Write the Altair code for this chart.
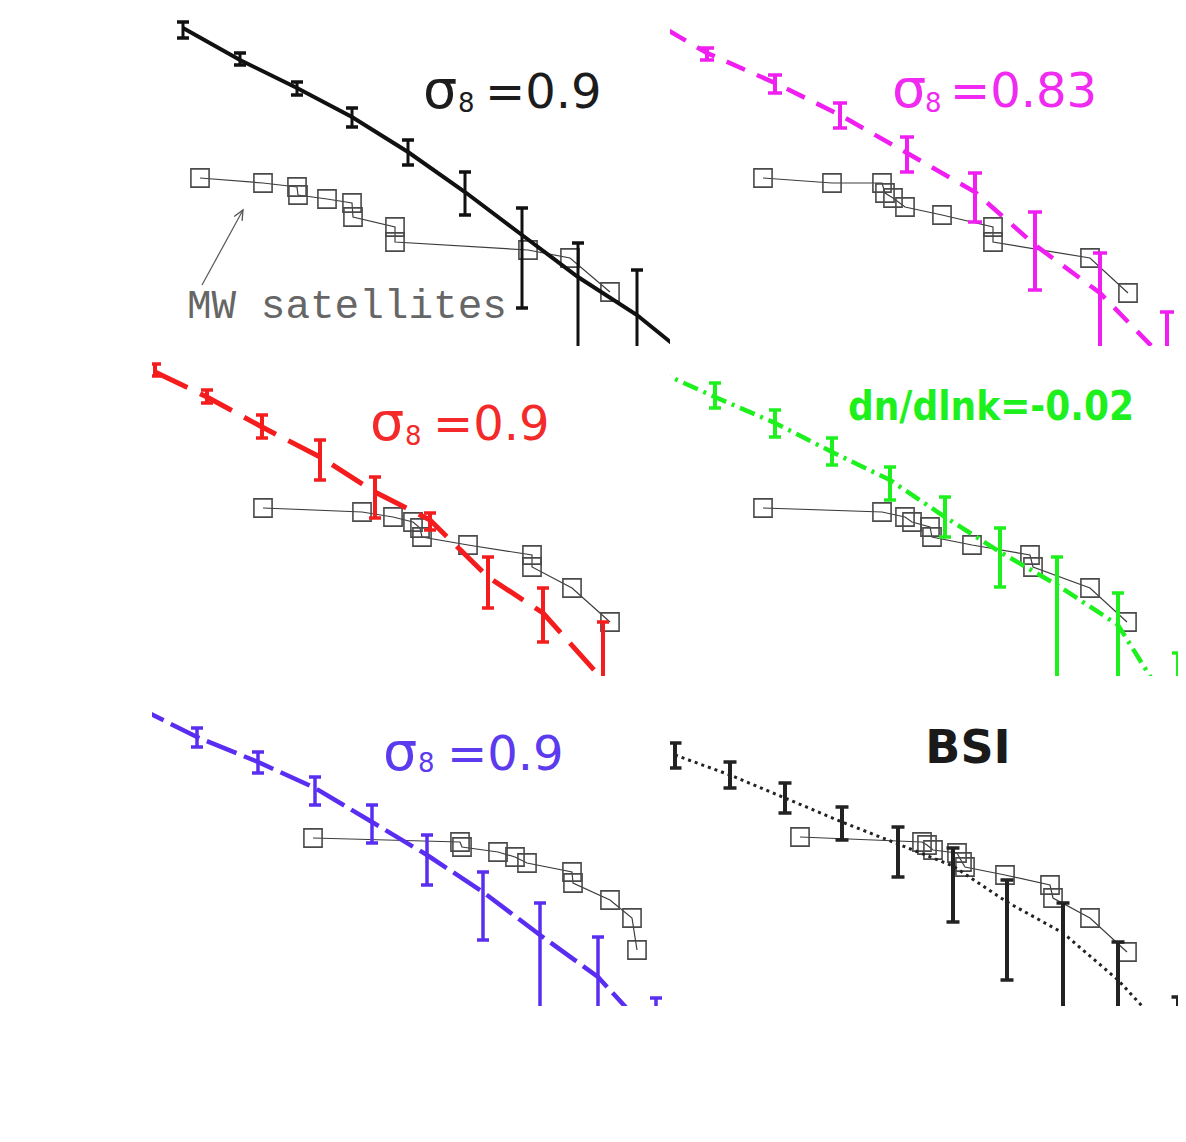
import altair as alt
import pandas as pd

# ------------------------------------------------------------------
# Data: x = log Vmax (offset, panel units),
# y = log N(>Vmax) (panel units). One set of arrays per panel.
# ------------------------------------------------------------------
# Panel a : sigma8 = 0.9 (solid black)
A_V = [0.31, 0.88, 1.45, 2.00, 2.56, 3.13, 3.70, 4.26, 4.85, 5.43]
A_N = [3.18, 2.86, 2.58, 2.29, 1.94, 1.54, 1.11, 0.69, 0.31, -0.16]
A_HI = [3.24, 2.93, 2.64, 2.38, 2.06, 1.74, 1.38, 1.03, 0.76, 0.40]
A_LO = [3.08, 2.81, 2.51, 2.19, 1.81, 1.31, 0.38, -0.40, -0.60, -1.00]
A_MW_V = [0.48, 1.11, 1.45, 1.46, 1.75, 2.00, 2.01, 2.43, 2.43, 3.76, 4.18, 4.58]
A_MW_N = [1.68, 1.63, 1.59, 1.51, 1.47, 1.43, 1.29, 1.19, 1.04, 0.96, 0.88, 0.54]

# Panel b : sigma8 = 0.83 (magenta dashed)
B_V = [-0.30, 0.37, 1.05, 1.70, 2.37, 3.05, 3.65, 4.30, 4.97]
B_N = [3.32, 2.93, 2.63, 2.31, 1.93, 1.54, 1.01, 0.53, -0.16]
B_HI = [3.38, 2.98, 2.71, 2.43, 2.09, 1.73, 1.34, 0.93, 0.34]
B_LO = [3.26, 2.86, 2.53, 2.18, 1.74, 1.24, 0.56, -0.20, -0.80]
B_MW_V = [0.93, 1.62, 2.12, 2.15, 2.23, 2.35, 2.72, 3.23, 3.23, 4.20, 4.58]
B_MW_N = [1.68, 1.63, 1.63, 1.53, 1.48, 1.39, 1.31, 1.19, 1.04, 0.88, 0.53]

# Panel c : sigma8 = 0.9 (red long dashes)
C_V = [0.03, 0.55, 1.10, 1.68, 2.23, 2.78, 3.36, 3.91, 4.51]
C_N = [3.04, 2.79, 2.49, 2.19, 1.84, 1.56, 0.99, 0.63, -0.04]
C_HI = [3.12, 2.86, 2.61, 2.36, 1.99, 1.63, 1.19, 0.88, 0.54]
C_LO = [3.00, 2.73, 2.38, 1.96, 1.58, 1.46, 0.68, 0.34, -0.60]
C_MW_V = [1.11, 2.10, 2.41, 2.61, 2.68, 2.70, 3.16, 3.80, 3.80, 4.20, 4.58]
C_MW_N = [1.68, 1.64, 1.59, 1.54, 1.48, 1.39, 1.31, 1.21, 1.09, 0.88, 0.54]

# Panel d : dn/dlnk = -0.02 (green dash-dot)
D_V = [-0.15, 0.45, 1.05, 1.62, 2.20, 2.75, 3.30, 3.87, 4.48, 5.08]
D_N = [3.06, 2.79, 2.53, 2.24, 1.96, 1.59, 1.24, 0.91, 0.51, -0.45]
D_HI = [3.12, 2.93, 2.66, 2.38, 2.09, 1.79, 1.48, 1.19, 0.83, 0.23]
D_LO = [3.00, 2.68, 2.39, 2.11, 1.76, 1.39, 0.89, -0.50, -0.50, -0.80]
D_MW_V = [0.93, 2.12, 2.35, 2.42, 2.60, 2.62, 3.02, 3.60, 3.63, 4.20, 4.57]
D_MW_N = [1.68, 1.64, 1.59, 1.54, 1.49, 1.39, 1.31, 1.21, 1.09, 0.88, 0.54]

# Panel e : sigma8 = 0.9 (blue dashed)
E_V = [-0.17, 0.45, 1.06, 1.63, 2.20, 2.75, 3.31, 3.88, 4.46, 5.04]
E_N = [3.00, 2.69, 2.44, 2.18, 1.84, 1.51, 1.14, 0.71, 0.29, -0.34]
E_HI = [3.06, 2.78, 2.54, 2.29, 2.01, 1.71, 1.34, 1.03, 0.69, 0.08]
E_LO = [2.94, 2.59, 2.33, 2.01, 1.63, 1.21, 0.66, -0.30, -0.40, -1.00]
E_MW_V = [1.61, 3.08, 3.10, 3.46, 3.63, 3.75, 4.20, 4.21, 4.58, 4.80, 4.85]
E_MW_N = [1.68, 1.64, 1.59, 1.54, 1.49, 1.43, 1.34, 1.23, 1.06, 0.88, 0.56]

# Panel f : BSI (black dotted)
F_V = [0.05, 0.60, 1.15, 1.72, 2.28, 2.83, 3.37, 3.93, 4.48, 5.08]
F_N = [2.51, 2.31, 2.08, 1.84, 1.62, 1.40, 1.04, 0.73, 0.26, -0.39]
F_HI = [2.63, 2.44, 2.23, 1.99, 1.79, 1.58, 1.26, 1.03, 0.64, 0.09]
F_LO = [2.38, 2.18, 1.93, 1.66, 1.29, 0.84, 0.26, -0.30, -0.30, -1.00]
F_MW_V = [1.30, 2.52, 2.57, 2.63, 2.87, 2.92, 2.95, 3.35, 3.80, 3.83, 4.20, 4.57]
F_MW_N = [1.69, 1.64, 1.61, 1.56, 1.53, 1.44, 1.39, 1.31, 1.21, 1.08, 0.88, 0.54]

# Annotation "MW satellites": arrow (tail, tip) and text anchor, panel a units
ARROW_V = [0.50, 0.91]
ARROW_N = [0.61, 1.36]
MW_TEXT_V = 0.35
MW_TEXT_N = 0.28

Y_MAX = 3.3
PANEL_H = 330
LEFT_W, RIGHT_W = 518, 508
FONT = "DejaVu Sans"
NARROW = "Liberation Sans Narrow, DejaVu Sans Condensed, Roboto Condensed, Noto Sans Condensed, Roboto, sans-serif"


def sigma_label(color, xs, x8, xe, yb, y8, rest):
    return [
        dict(t="σ", v=xs, n=yb, size=54, align="left", color=color, font=FONT, weight="normal"),
        dict(t="8", v=x8, n=y8, size=26, align="left", color=color, font=FONT, weight="normal"),
        dict(t=rest, v=xe, n=yb, size=48, align="left", color=color, font=FONT, weight="normal"),
    ]


def panel(v, n, hi, lo, mw_v, mw_n, width, color, lw, dash, bw, cap, labels, extra=None):
    xs = alt.Scale(domain=[0, width / 100.0], nice=False, zero=False)
    ys = alt.Scale(domain=[0, Y_MAX], nice=False, zero=False)

    def X(f):
        return alt.X(f, type="quantitative", scale=xs, axis=None)

    def Y(f):
        return alt.Y(f, type="quantitative", scale=ys, axis=None)

    model = pd.DataFrame({"v": v, "n": n, "hi": hi, "lo": lo, "i": list(range(len(v)))})
    mw = pd.DataFrame({"v": mw_v, "n": mw_n, "i": list(range(len(mw_v)))})

    layers = []
    layers.append(
        alt.Chart(mw).mark_line(color="#3c3c3c", strokeWidth=1.2)
        .encode(x=X("v"), y=Y("n"), order="i:Q")
    )
    layers.append(
        alt.Chart(mw).mark_point(shape="square", size=330, filled=False, color="#4a4a4a",
                                 strokeWidth=1.6, opacity=1)
        .encode(x=X("v"), y=Y("n"))
    )
    line_kw = dict(clip=True, color=color, strokeWidth=lw, strokeCap="butt")
    if dash:
        line_kw["strokeDash"] = dash
    layers.append(alt.Chart(model).mark_line(**line_kw).encode(x=X("v"), y=Y("n"), order="i:Q"))
    layers.append(
        alt.Chart(model).mark_rule(clip=True, color=color, strokeWidth=bw)
        .encode(x=X("v"), y=Y("lo"), y2="hi")
    )
    for f in ("hi", "lo"):
        layers.append(
            alt.Chart(model).mark_tick(clip=True, orient="horizontal", color=color,
                                       size=cap, thickness=3.5, opacity=1)
            .encode(x=X("v"), y=Y(f))
        )
    if extra is not None:
        layers.extend(extra(X, Y))
    for lab in labels:
        df = pd.DataFrame({"v": [lab["v"]], "n": [lab["n"]], "t": [lab["t"]]})
        layers.append(
            alt.Chart(df).mark_text(align=lab["align"], baseline="alphabetic", font=lab["font"],
                                    fontSize=lab["size"], fontWeight=lab["weight"],
                                    color=lab["color"])
            .encode(x=X("v"), y=Y("n"), text="t:N")
        )
    return alt.layer(*layers).properties(
        width=width, height=PANEL_H,
        view=alt.ViewBackground(stroke="transparent", strokeWidth=0),
    )


def mw_arrow(X, Y):
    df = pd.DataFrame({"v0": [ARROW_V[0]], "n0": [ARROW_N[0]],
                       "v1": [ARROW_V[1]], "n1": [ARROW_N[1]],
                       "tv": [MW_TEXT_V], "tn": [MW_TEXT_N], "t": ["MW satellites"]})
    return [
        alt.Chart(df).mark_rule(color="#555555", strokeWidth=1.2)
        .encode(x=X("v0"), y=Y("n0"), x2="v1", y2="n1"),
        alt.Chart(df).mark_point(shape="M -0.45 1 L 0 0 L 0.45 1", size=400, filled=False,
                                 color="#555555", strokeWidth=1.3, angle=29, opacity=1)
        .encode(x=X("v1"), y=Y("n1")),
        alt.Chart(df).mark_text(align="left", baseline="alphabetic", font="Liberation Mono",
                                fontSize=41, color="#666666")
        .encode(x=X("tv"), y=Y("tn"), text="t:N"),
    ]


pA = panel(A_V, A_N, A_HI, A_LO, A_MW_V, A_MW_N, LEFT_W, "#111111", 4, None, 3, 12,
           sigma_label("#1c1c1c", 2.71, 3.06, 3.33, 2.38, 2.34, "=0.9"), extra=mw_arrow)
pB = panel(B_V, B_N, B_HI, B_LO, B_MW_V, B_MW_N, RIGHT_W, "#f01ef0", 4.5, [20, 13], 4, 14,
           sigma_label("#f02af0", 2.22, 2.55, 2.80, 2.39, 2.34, "=0.83"))
pC = panel(C_V, C_N, C_HI, C_LO, C_MW_V, C_MW_N, LEFT_W, "#f41c1c", 5, [36, 14], 4, 12,
           sigma_label("#f42a2a", 2.18, 2.53, 2.81, 2.36, 2.31, "=0.9"))
pD = panel(D_V, D_N, D_HI, D_LO, D_MW_V, D_MW_N, RIGHT_W, "#1ef01e", 4.5, [16, 6, 3, 6], 4, 12,
           [dict(t="dn/dlnk=-0.02", v=3.21, n=2.56, size=40, align="center", color="#1ef01e",
                 font=NARROW, weight="bold")])
pE = panel(E_V, E_N, E_HI, E_LO, E_MW_V, E_MW_N, LEFT_W, "#5a2ef0", 4.5, [32, 8], 3.5, 12,
           sigma_label("#5c3aee", 2.31, 2.66, 2.95, 2.36, 2.34, "=0.9"))
pF = panel(F_V, F_N, F_HI, F_LO, F_MW_V, F_MW_N, RIGHT_W, "#222222", 3, [3, 4], 4, 13,
           [dict(t="BSI", v=2.98, n=2.43, size=46, align="center", color="#1a1a1a",
                 font=FONT, weight="bold")])

row1 = alt.hconcat(pA, pB, spacing=0, bounds="flush")
row2 = alt.hconcat(pC, pD, spacing=0, bounds="flush")
row3 = alt.hconcat(pE, pF, spacing=0, bounds="flush")

chart = (
    alt.vconcat(row1, row2, row3, spacing=0)
    .properties(padding={"left": 144, "top": 8, "right": 0, "bottom": 120},
                background="white")
    .configure_view(strokeWidth=0, stroke="transparent")
)

chart.save("out.html", embed_options={"renderer": "svg", "actions": False})
